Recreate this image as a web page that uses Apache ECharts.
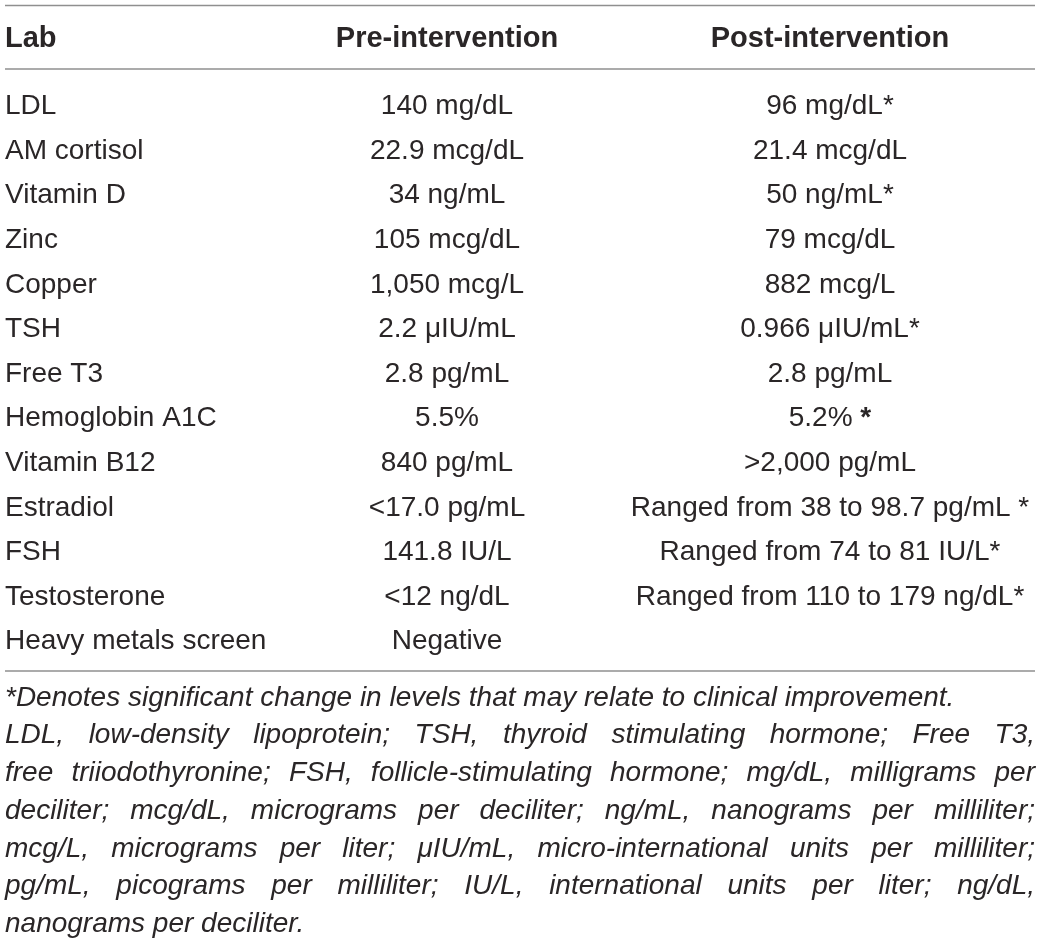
<!DOCTYPE html>
<html>
<head>
<meta charset="utf-8">
<script src="https://cdn.jsdelivr.net/npm/echarts@6/dist/echarts.min.js"></script>
<style>
  html, body { margin: 0; padding: 0; background: #fff; }
  #main { width: 1042px; height: 941px; }
</style>
</head>
<body>
<div id="main"></div>
<script>
// table content
const headers = ['Lab', 'Pre-intervention', 'Post-intervention'];
const labs = ['LDL', 'AM cortisol', 'Vitamin D', 'Zinc', 'Copper', 'TSH', 'Free T3',
  'Hemoglobin A1C', 'Vitamin B12', 'Estradiol', 'FSH', 'Testosterone', 'Heavy metals screen'];
const preValues = ['140 mg/dL', '22.9 mcg/dL', '34 ng/mL', '105 mcg/dL', '1,050 mcg/L',
  '2.2 \u03bcIU/mL', '2.8 pg/mL', '5.5%', '840 pg/mL', '<17.0 pg/mL', '141.8 IU/L',
  '<12 ng/dL', 'Negative'];
const postValues = ['96 mg/dL*', '21.4 mcg/dL', '50 ng/mL*', '79 mcg/dL', '882 mcg/L',
  '0.966 \u03bcIU/mL*', '2.8 pg/mL', '5.2% {b|*}', '>2,000 pg/mL',
  'Ranged from 38 to 98.7 pg/mL *', 'Ranged from 74 to 81 IU/L*',
  'Ranged from 110 to 179 ng/dL*', ''];
const footnoteLines = [
  '*Denotes significant change in levels that may relate to clinical improvement.',
  'LDL, low-density lipoprotein; TSH, thyroid stimulating hormone; Free T3,',
  'free triiodothyronine; FSH, follicle-stimulating hormone; mg/dL, milligrams per',
  'deciliter; mcg/dL, micrograms per deciliter; ng/mL, nanograms per milliliter;',
  'mcg/L, micrograms per liter; \u03bcIU/mL, micro-international units per milliliter;',
  'pg/mL, picograms per milliliter; IU/L, international units per liter; ng/dL,',
  'nanograms per deciliter.'
];
const justified = [false, true, true, true, true, true, false];

let chart = echarts.init(document.getElementById('main'));

const FONT = '"Liberation Sans", Arial, sans-serif';
const textColor = '#2a2627';
const lineColor = '#8f8f8f';
const left = 5, right = 1035;
const colX = [5, 447, 830];
const colAlign = ['left', 'center', 'center'];
const rowSize = 28, headSize = 29, noteSize = 28;

let els = [];

function txt(s, x, y, align, font, extra) {
  let st = {
    text: s, x: x, y: y, font: font, fill: textColor,
    align: align, textAlign: align, verticalAlign: 'middle', textVerticalAlign: 'middle'
  };
  if (extra) Object.assign(st, extra);
  els.push({ type: 'text', silent: true, style: st });
}
function hline(y) {
  els.push({ type: 'line', silent: true, shape: { x1: left, y1: y, x2: right, y2: y },
    style: { stroke: lineColor, lineWidth: 1.5 } });
}

// rules
hline(5.5);
hline(69);
hline(671);

// header
headers.forEach(function (h, i) {
  txt(h, colX[i], 39, colAlign[i], 'bold ' + headSize + 'px ' + FONT);
});

// body rows
let rowFont = rowSize + 'px ' + FONT;
labs.forEach(function (lab, i) {
  let y = 106.5 + i * 44.6;
  txt(lab, colX[0], y, 'left', rowFont);
  txt(preValues[i], colX[1], y, 'center', rowFont);
  if (postValues[i]) {
    txt(postValues[i], colX[2], y, 'center', rowFont,
      { rich: { b: { fontWeight: 'bold', fontSize: rowSize, fontFamily: FONT, fill: textColor } } });
  }
});

// footnotes, justified like the source
let noteFont = 'italic ' + noteSize + 'px ' + FONT;
let ctx = document.createElement('canvas').getContext('2d');
ctx.font = noteFont;
footnoteLines.forEach(function (line, j) {
  let y = 698 + j * 37.7;
  if (!justified[j]) {
    txt(line, left, y, 'left', noteFont);
    return;
  }
  let words = line.split(' ');
  let widths = words.map(function (w) { return ctx.measureText(w).width; });
  let total = widths.reduce(function (a, b) { return a + b; }, 0);
  let gap = (right - left - total) / (words.length - 1);
  let x = left;
  words.forEach(function (w, k) {
    txt(w, x, y, 'left', noteFont);
    x += widths[k] + gap;
  });
});

chart.setOption({
  backgroundColor: '#ffffff',
  animation: false,
  graphic: { elements: els }
});
</script>
</body>
</html>
